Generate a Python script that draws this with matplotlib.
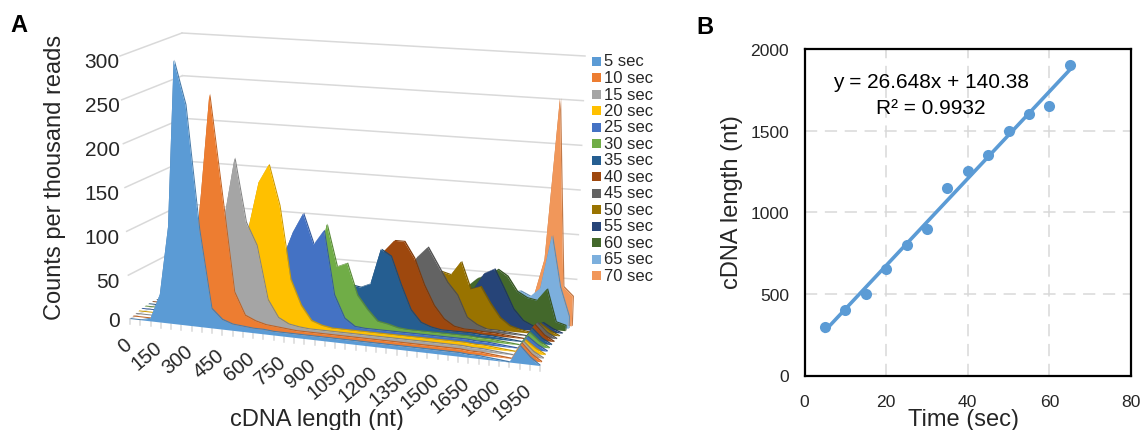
import numpy as np
import matplotlib
matplotlib.use("Agg")
import matplotlib.pyplot as plt
from matplotlib.colors import to_rgb
from matplotlib.patches import Rectangle

plt.rcParams["font.family"] = ["Liberation Sans", "DejaVu Sans"]

W, H = 1141, 431
text_col = "#262626"

# panel A data, counts every 50 nt from 0 to 2000
lengths = np.arange(0, 2001, 50)
series_labels = ["5 sec", "10 sec", "15 sec", "20 sec", "25 sec", "30 sec", "35 sec",
                 "40 sec", "45 sec", "50 sec", "55 sec", "60 sec", "65 sec", "70 sec"]
series_colors = ["#5B9BD5", "#ED7D31", "#A5A5A5", "#FFC000", "#4472C4", "#70AD47", "#255E91",
                 "#9E480E", "#636363", "#997300", "#264478", "#43682B", "#7CAFDD", "#F1975A"]

c05 = [0, 0, 3, 32, 110, 300, 250, 110, 22, 11,
       7, 6, 5, 5, 4, 4, 4, 4, 4, 4,
       4, 4, 4, 4, 4, 4, 4, 4, 4, 4,
       4, 4, 4, 3, 3, 2, 1, 0, 19, 8, 0]
c10 = [0, 0, 0, 0, 3, 15, 50, 150, 262, 150,
       40, 15, 10, 7, 6, 5, 4, 4, 4, 4,
       4, 4, 4, 4, 4, 4, 4, 4, 4, 4,
       4, 4, 4, 3, 3, 2, 1, 0, 18, 7, 0]
c15 = [0, 0, 0, 0, 0, 2, 5, 25, 68, 126,
       189, 117, 92, 32, 13, 7, 5, 4, 4, 4,
       4, 4, 4, 4, 4, 4, 4, 4, 4, 4,
       4, 4, 4, 3, 3, 2, 1, 0, 16, 6, 0]
c20 = [0, 0, 0, 0, 0, 0, 2, 4, 10, 25,
       56, 110, 161, 182, 136, 54, 26, 10, 6, 4,
       4, 4, 4, 4, 4, 4, 4, 4, 4, 4,
       4, 4, 4, 3, 3, 2, 1, 0, 14, 6, 0]
c25 = [0, 0, 0, 0, 0, 0, 0, 2, 4, 8,
       15, 25, 35, 55, 75, 105, 127, 93, 110, 38,
       13, 5, 4, 4, 4, 4, 4, 4, 4, 4,
       4, 4, 4, 3, 3, 2, 1, 0, 14, 6, 0]
c30 = [0, 0, 0, 0, 0, 0, 0, 1, 2, 3,
       5, 8, 12, 18, 25, 30, 45, 55, 114, 67,
       72, 37, 22, 10, 8, 5, 4, 4, 4, 4,
       4, 4, 4, 3, 3, 2, 1, 0, 15, 6, 0]
c35 = [0, 0, 0, 0, 0, 0, 0, 0, 1, 2,
       3, 4, 6, 8, 12, 18, 25, 30, 38, 43,
       45, 43, 48, 88, 81, 50, 23, 10, 6, 4,
       4, 4, 4, 3, 3, 2, 1, 0, 16, 6, 0]
c40 = [0, 0, 0, 0, 0, 0, 0, 0, 0, 1,
       2, 3, 4, 5, 6, 7, 8, 9, 10, 14,
       20, 30, 40, 83, 96, 96, 78, 49, 27, 13,
       6, 4, 4, 3, 3, 2, 1, 0, 17, 6, 0]
c45 = [0, 0, 0, 0, 0, 0, 0, 0, 0, 0,
       1, 1, 2, 3, 4, 5, 6, 7, 8, 10,
       15, 20, 25, 35, 45, 60, 77, 89, 70, 51,
       38, 14, 7, 3, 3, 2, 1, 0, 16, 6, 0]
c50 = [0, 0, 0, 0, 0, 0, 0, 0, 0, 0,
       0, 1, 1, 2, 2, 3, 4, 5, 6, 7,
       9, 12, 16, 20, 26, 33, 43, 51, 60, 57,
       73, 43, 47, 29, 14, 6, 3, 1, 12, 5, 0]
c55 = [0, 0, 0, 0, 0, 0, 0, 0, 0, 0,
       0, 0, 0, 1, 1, 2, 2, 3, 4, 5,
       7, 9, 12, 16, 20, 25, 30, 35, 38, 38,
       40, 41, 59, 65, 44, 22, 10, 5, 10, 4, 0]
c60 = [0, 0, 0, 0, 0, 0, 0, 0, 0, 0,
       0, 0, 0, 0, 1, 1, 1, 2, 2, 3,
       4, 5, 6, 8, 10, 13, 16, 20, 25, 30,
       40, 50, 55, 62, 55, 39, 33, 31, 45, 9, 6]
c65 = [0, 0, 0, 0, 0, 0, 0, 0, 0, 0,
       0, 0, 0, 0, 0, 0, 1, 1, 1, 2,
       2, 3, 4, 5, 6, 8, 10, 13, 16, 20,
       25, 28, 30, 33, 35, 37, 32, 42, 102, 45, 13]
c70 = [0, 0, 0, 0, 0, 0, 0, 0, 0, 0,
       0, 0, 0, 0, 0, 0, 0, 1, 1, 1,
       2, 2, 3, 3, 4, 5, 6, 8, 10, 12,
       14, 16, 18, 20, 22, 25, 28, 72, 253, 43, 33]
all_counts = [c05, c10, c15, c20, c25, c30, c35, c40, c45, c50, c55, c60, c65, c70]

y_ticks_a = [0, 50, 100, 150, 200, 250, 300]
x_ticks_a = [0, 150, 300, 450, 600, 750, 900, 1050, 1200, 1350, 1500, 1650, 1800, 1950]

# panel B data
times = [5, 10, 15, 20, 25, 30, 35, 40, 45, 50, 55, 60, 65]
cdna = [300, 400, 500, 650, 800, 900, 1150, 1250, 1350, 1500, 1600, 1650, 1900]
slope, intercept = 26.648, 140.38

# pixel positions of the floor corners and the lean of the vertical edges (for 300 counts)
# order: [depth][length], depth 0 is the front row
floor_x = [[130, 540], [185, 575]]
floor_y = [[320, 367], [290, 325]]
up_x = [[-10, 9], [-3, 10]]
up_y = [[-263, -275], [-256, -268]]


def bilin(c, u, z):
    return ((1 - z) * ((1 - u) * c[0][0] + u * c[0][1])
            + z * ((1 - u) * c[1][0] + u * c[1][1]))


def project(nt, count, z):
    u = np.asarray(nt, dtype=float) / 2000
    h = np.asarray(count, dtype=float) / 300
    # rough perspective: rows are not evenly spaced on screen
    bow = np.sin(np.pi * z)
    zx = z - 0.1 * bow
    zy = z + 0.07 * bow
    px = bilin(floor_x, u, zx) + h * bilin(up_x, u, zx)
    py = bilin(floor_y, u, zy) + h * bilin(up_y, u, zy)
    return px, py


fig = plt.figure(figsize=(W / 100, H / 100), dpi=100)
ax = fig.add_axes([0, 0, 1, 1])
ax.set_xlim(0, W)
ax.set_ylim(H, 0)
ax.axis("off")

# walls
for t in y_ticks_a:
    xa, ya = project([0, 0], [t, t], np.array([0.0, 1.0]))
    xb, yb = project([0, 2000], [t, t], 1.0)
    ax.plot(xa, ya, color="#d9d9d9", lw=1.1, zorder=1)
    if t > 0:
        ax.plot(xb, yb, color="#d9d9d9", lw=1.1, zorder=1)
    lx, ly = project(0, t, 0.0)
    ax.text(119.5, ly + (6 if t > 0 else 2), str(t), ha="right", va="center",
            fontsize=15, color=text_col)

# length axis
for nt in lengths:
    tx, ty = project([nt, nt], [0, 0], 0.0)
    ax.plot([tx[0], tx[0]], [ty[0], ty[0] + 5], color="#d9d9d9", lw=1.1, zorder=1)
for nt in x_ticks_a:
    tx, ty = project(nt, 0, 0.0)
    ax.text(tx - 7, ty + 15, str(nt), rotation=40, rotation_mode="anchor",
            ha="right", va="top", fontsize=14.5, color=text_col)

# areas, back to front
n_rows = len(all_counts)
for i in range(n_rows - 1, -1, -1):
    z0 = i / n_rows
    z1 = (i + 0.35) / n_rows
    col = series_colors[i]
    dark = tuple(c * 0.8 for c in to_rgb(col))
    nt = np.r_[lengths[0], lengths, lengths[-1]]
    cnt = np.r_[0, all_counts[i], 0]
    x0, y0 = project(nt, cnt, z0)
    x1, y1 = project(nt, cnt, z1)
    ax.fill(np.r_[x0, x1[::-1]], np.r_[y0, y1[::-1]], color=dark, lw=0, zorder=2)
    ax.fill(x0, y0, color=col, lw=0, zorder=2)

# legend
for i, lab in enumerate(series_labels):
    ly = 62 + i * 16.5
    ax.add_patch(Rectangle((592, ly - 4.5), 9, 9, color=series_colors[i], lw=0))
    ax.text(604.5, ly, lab, ha="left", va="center", fontsize=12, color=text_col)

ax.text(55, 177, "Counts per thousand reads", rotation=90, ha="center", va="center",
        fontsize=17, color=text_col)
ax.text(317, 420, "cDNA length (nt)", ha="center", va="center", fontsize=17, color=text_col)
ax.text(10, 25, "A", ha="left", va="center", fontsize=17, fontweight="bold", color="black")
ax.text(696, 28, "B", ha="left", va="center", fontsize=17, fontweight="bold", color="black")

# panel B
left, right, top, bottom = 804.5, 1131, 50, 376.5
bx = fig.add_axes([left / W, 1 - bottom / H, (right - left) / W, (bottom - top) / H])
bx.set_xlim(0, 80)
bx.set_ylim(0, 2000)
bx.set_xticks([0, 20, 40, 60, 80])
bx.set_yticks([0, 500, 1000, 1500, 2000])
bx.grid(True, color="#d9d9d9", lw=1.1, ls=(0, (8, 5)))
bx.set_axisbelow(True)
bx.tick_params(length=0, labelsize=12.6, labelcolor=text_col)
bx.tick_params(axis="x", pad=13)
bx.tick_params(axis="y", pad=11)
for s in bx.spines.values():
    s.set_linewidth(1.6)
    s.set_color("black")
fit_x = np.array([times[0], times[-1]])
bx.plot(fit_x, slope * fit_x + intercept, color="#5B9BD5", lw=2.6)
bx.plot(times, cdna, "o", color="#5B9BD5", ms=8, mew=0, clip_on=False)
ax.text(964, 420, "Time (sec)", ha="center", va="center", fontsize=17, color=text_col, zorder=5)
ax.text(732, 202, "cDNA length (nt)", rotation=90, ha="center", va="center",
        fontsize=17, color=text_col, zorder=5)
ax.text(931, 83, "y = 26.648x + 140.38", ha="center", va="center", fontsize=15, color="black", zorder=5)
ax.text(931, 109, "R\u00b2 = 0.9932", ha="center", va="center", fontsize=15, color="black", zorder=5)
ax.set_zorder(3)
ax.patch.set_alpha(0)

fig.savefig("out.png", dpi=100)
